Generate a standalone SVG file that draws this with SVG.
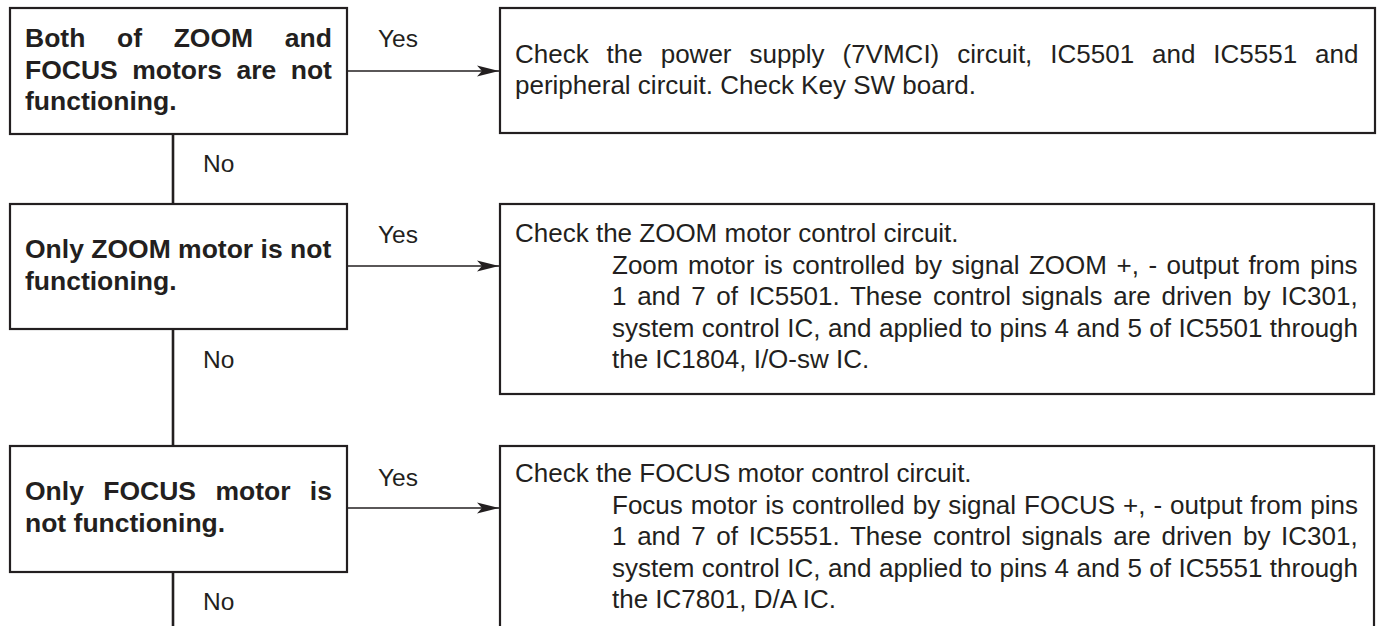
<svg xmlns="http://www.w3.org/2000/svg" width="1381" height="626" viewBox="0 0 1381 626">
<style>
.box{fill:#fff;stroke:#231f20;stroke-width:2.2}
.q{font-family:"Liberation Sans",Arial,sans-serif;font-weight:bold;font-size:26.5px;fill:#231f20}
.t{font-family:"Liberation Sans",Arial,sans-serif;font-size:26px;fill:#231f20}
.lbl{font-family:"Liberation Sans",Arial,sans-serif;font-size:24.5px;fill:#231f20}
.arr{stroke:#231f20;stroke-width:1.6;fill:none;marker-end:url(#ah)}
.v{stroke:#231f20;stroke-width:2.6;fill:none}
</style>
<defs>
<marker id="ah" markerUnits="userSpaceOnUse" markerWidth="24" markerHeight="14" refX="22" refY="6" orient="auto" viewBox="0 0 24 12">
<path d="M0,0.5 L22,6 L0,11.5 L5,6 Z" fill="#231f20"/>
</marker>
</defs>
<rect width="1381" height="626" fill="#fff"/>
<g id="connectors">
<line class="v" x1="173" y1="134" x2="173" y2="204"/>
<line class="v" x1="173" y1="329" x2="173" y2="446"/>
<line class="v" x1="173" y1="572" x2="173" y2="630"/>
<line class="arr" x1="347" y1="71" x2="499" y2="71"/>
<line class="arr" x1="347" y1="266" x2="499" y2="266"/>
<line class="arr" x1="347" y1="508" x2="499" y2="508"/>
<text class="lbl" x="378" y="47">Yes</text>
<text class="lbl" x="378" y="243">Yes</text>
<text class="lbl" x="378" y="486">Yes</text>
<text class="lbl" x="203" y="172">No</text>
<text class="lbl" x="203" y="368">No</text>
<text class="lbl" x="203" y="610">No</text>
</g>
<g id="q1">
<rect class="box" x="10" y="8" width="337" height="126"/>
<text class="q" x="25" y="47" word-spacing="24.3">Both of ZOOM and</text>
<text class="q" x="25" y="78.5" word-spacing="7.1">FOCUS motors are not</text>
<text class="q" x="25" y="110">functioning.</text>
</g>
<g id="a1">
<rect class="box" x="500" y="8" width="875" height="125"/>
<text class="t" x="515" y="63" word-spacing="10.7">Check the power supply (7VMCI) circuit, IC5501 and IC5551 and</text>
<text class="t" x="515" y="94">peripheral circuit. Check Key SW board.</text>
</g>
<g id="q2">
<rect class="box" x="10" y="204" width="337" height="125"/>
<text class="q" x="25" y="258">Only ZOOM motor is not</text>
<text class="q" x="25" y="289.5">functioning.</text>
</g>
<g id="a2">
<rect class="box" x="500" y="204" width="874" height="190"/>
<text class="t" x="515" y="242">Check the ZOOM motor control circuit.</text>
<text class="t" x="612" y="273.5" word-spacing="2.3">Zoom motor is controlled by signal ZOOM +, - output from pins</text>
<text class="t" x="612" y="305" word-spacing="3.45">1 and 7 of IC5501. These control signals are driven by IC301,</text>
<text class="t" x="612" y="336.5" word-spacing="0.26">system control IC, and applied to pins 4 and 5 of IC5501 through</text>
<text class="t" x="612" y="368">the IC1804, I/O-sw IC.</text>
</g>
<g id="q3">
<rect class="box" x="10" y="446" width="337" height="126"/>
<text class="q" x="25" y="500" word-spacing="12">Only FOCUS motor is</text>
<text class="q" x="25" y="531.5">not functioning.</text>
</g>
<g id="a3">
<rect class="box" x="500" y="446" width="874" height="200"/>
<text class="t" x="515" y="482">Check the FOCUS motor control circuit.</text>
<text class="t" x="612" y="513.5" word-spacing="0.76">Focus motor is controlled by signal FOCUS +, - output from pins</text>
<text class="t" x="612" y="545" word-spacing="3.45">1 and 7 of IC5551. These control signals are driven by IC301,</text>
<text class="t" x="612" y="576.5" word-spacing="0.26">system control IC, and applied to pins 4 and 5 of IC5551 through</text>
<text class="t" x="612" y="608">the IC7801, D/A IC.</text>
</g>
</svg>
